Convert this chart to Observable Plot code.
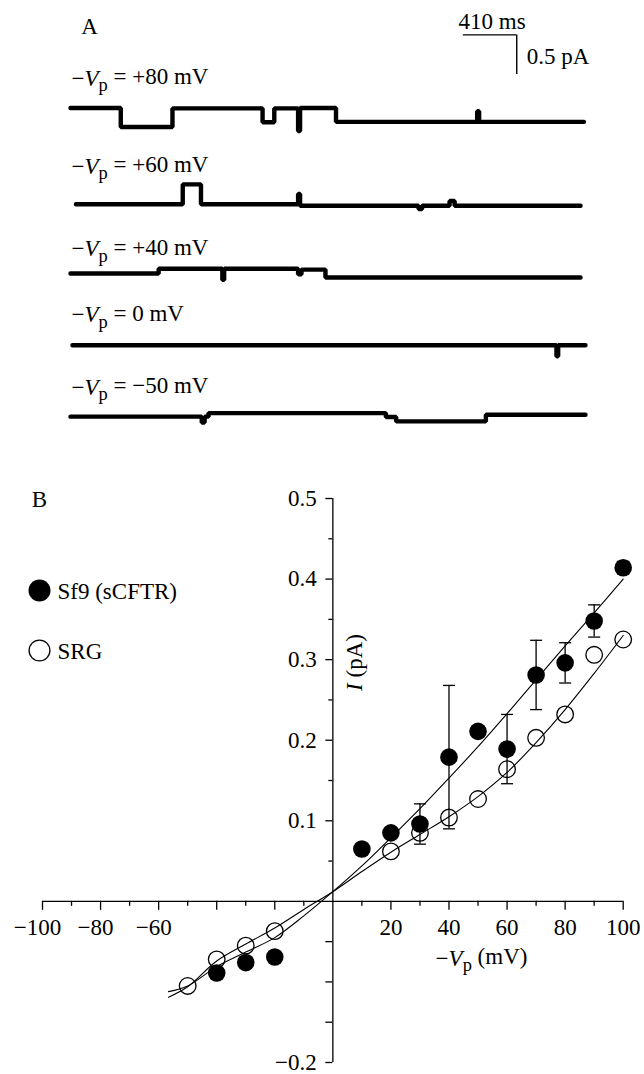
<!DOCTYPE html>
<html>
<head>
<meta charset="utf-8">
<script src="https://cdn.jsdelivr.net/npm/d3@7"></script>
<script src="https://cdn.jsdelivr.net/npm/@observablehq/plot@0.6"></script>
<style>
  html, body { margin: 0; padding: 0; background: #fff; }
  #chart svg { display: block; }
  #chart text { white-space: pre; }
</style>
</head>
<body>
<div id="chart"></div>
<script>
// ================= DATA =================
// Panel A: single-channel traces, [time (ms), current (pA)] breakpoints (step levels)
const traceLabels = ["\u2212V_p = +80 mV", "\u2212V_p = +60 mV", "\u2212V_p = +40 mV", "\u2212V_p = 0 mV", "\u2212V_p = \u221250 mV"];
const trace80  = [[0,0.24],[386,0],[783,0.235],[1475,0.06],[1565,0.235],[1748,-0.05],[1763,0.24],[2039,0.065],[3123,0.2],[3138,0.065],[3943,0.065]];
const trace60  = [[42,0],[862,0.25],[1002,0],[1748,0.13],[1763,-0.02],[2673,-0.06],[2700,-0.02],[2911,0.04],[2950,-0.02],[3917,-0.02]];
const trace40  = [[0,0.05],[677,0.11],[1166,-0.03],[1180,0.11],[1748,0.04],[1774,0.1],[1958,0],[3917,0]];
const trace0   = [[15,0],[3732,-0.14],[3745,0],[3955,0]];
const traceM50 = [[0,-0.045],[1008,-0.12],[1030,-0.045],[1060,0],[2422,-0.05],[2501,-0.105],[3190,-0.02],[3955,-0.02]];
const traces = [trace80, trace60, trace40, trace0, traceM50];
const recordLength = 3955;          // ms shown per trace
const scaleBarTime = 410;           // ms
const scaleBarCurrent = 0.5;        // pA

// Panel B: I-V relation
const vSf9   = [-40, -30, -20, 10, 20, 30, 40, 50, 60, 70, 80, 90, 100];
const iSf9   = [-0.089, -0.076, -0.069, 0.065, 0.085, 0.096, 0.179, 0.211, 0.189, 0.281, 0.296, 0.348, 0.414];
const errSf9 = [0, 0, 0, 0, 0, 0.025, 0.089, 0, 0.043, 0.043, 0.025, 0.02, 0.008];
const vSRG   = [-50, -40, -30, -20, 20, 30, 40, 50, 60, 70, 80, 90, 100];
const iSRG   = [-0.105, -0.072, -0.055, -0.037, 0.062, 0.085, 0.104, 0.127, 0.164, 0.203, 0.232, 0.306, 0.325];
const fitV   = [-56.6, -50, -40, -30, -20, -10, 0, 10, 20, 30, 40, 50, 60, 70, 80, 90, 100];
const fitSf9 = [-0.112, -0.105, -0.081, -0.063, -0.045, -0.018, 0.012, 0.044, 0.079, 0.115, 0.153, 0.192, 0.233, 0.275, 0.317, 0.358, 0.400];
const fitSRG = [-0.119, -0.106, -0.074, -0.053, -0.033, -0.010, 0.012, 0.037, 0.061, 0.083, 0.105, 0.130, 0.160, 0.197, 0.238, 0.283, 0.330];
const xMajor = [-100, -80, -60, -40, -20, 20, 40, 60, 80, 100];
const xMinor = [-90, -70, -50, -30, -10, 10, 30, 50, 70, 90];
const xLabelsNeg = [-100, -80, -60];
const xLabelsPos = [20, 40, 60, 80, 100];
const yMajor = [-0.2, -0.15, -0.1, -0.05, 0.1, 0.2, 0.3, 0.4, 0.5];
const yMinor = [0.05, 0.15, 0.25, 0.35, 0.45];
const yLabels = [0.1, 0.2, 0.3, 0.4, 0.5, -0.2];
const legendNames = ["Sf9 (sCFTR)", "SRG"];

// ================= LAYOUT =================
const W = 644;
const FONT = '"Liberation Serif", "Times New Roman", serif';
const FS = 23;
const style = {fontFamily: FONT, fontSize: FS + "px", background: "white", color: "black", overflow: "visible"};

// ---- Panel A ----
const HA = 440, A_ml = 70, A_mr = 59;
const pxPerPA = 79.2;
const traceBaselinePx = [126.5, 203.7, 277, 344.7, 412.6];
const traceLabelPx = [78, 165.8, 248.5, 314.4, 386.7];
const yTopA = HA / pxPerPA;
const offsets = traceBaselinePx.map(b => (HA - b) / pxPerPA);
const traceData = traces.flatMap((tr, k) => tr.map(([t, i]) => ({t, v: i + offsets[k], k})));
const barCornerT = 3427, barCornerV = (HA - 34.4) / pxPerPA;
const barH = [{t1: barCornerT - scaleBarTime, t2: barCornerT, v: barCornerV}];
const barV = [{t: barCornerT, v1: barCornerV - scaleBarCurrent, v2: barCornerV}];

const plotA = Plot.plot({
  width: W, height: HA,
  marginLeft: A_ml, marginRight: A_mr, marginTop: 0, marginBottom: 0,
  x: {domain: [0, recordLength], axis: null},
  y: {domain: [0, yTopA], axis: null},
  style,
  marks: [
    Plot.line(traceData, {x: "t", y: "v", z: "k", curve: "step-after", stroke: "black", strokeWidth: 4.4, strokeLinejoin: "miter"}),
    Plot.ruleY(barH, {x1: "t1", x2: "t2", y: "v", strokeWidth: 1.4}),
    Plot.ruleX(barV, {x: "t", y1: "v1", y2: "v2", strokeWidth: 1.4}),
    Plot.text([scaleBarTime + " ms"], {text: d => d, x: barCornerT - scaleBarTime / 2, y: barCornerV, dx: 2, dy: -13, textAnchor: "middle", lineAnchor: "middle"}),
    Plot.text([scaleBarCurrent + " pA"], {text: d => d, x: barCornerT, y: barCornerV - scaleBarCurrent / 2, dx: 10, dy: 2, textAnchor: "start", lineAnchor: "middle"}),
    Plot.text(["A"], {text: d => d, frameAnchor: "top-left", dx: 19, dy: 26, textAnchor: "middle", lineAnchor: "middle"}),
    Plot.text(traceLabels, {text: d => d, frameAnchor: "top-left", dx: 1, dy: 0, textAnchor: "start", lineAnchor: "middle"})
  ]
});

// ---- Panel B ----
const HB = 634;
const mB = {top: 58, bottom: 12, left: 42, right: 21.3};
const xDom = [-100, 100], yDom = [-0.2, 0.5];
const innerW = W - mB.left - mB.right, innerH = HB - mB.top - mB.bottom;
const yAxisDx = innerW * (0 - xDom[0]) / (xDom[1] - xDom[0]);
const xAxisDy = -innerH * (0 - yDom[0]) / (yDom[1] - yDom[0]);
const fmt = d => (d < 0 ? "\u2212" : "") + Math.abs(d);

const sf9Data = vSf9.map((v, j) => ({v, i: iSf9[j], e: errSf9[j]}));
const errData = sf9Data.filter(d => d.e > 0);
const capData = errData.flatMap(d => [{v: d.v, i: d.i - d.e}, {v: d.v, i: d.i + d.e}]);
const srgData = vSRG.map((v, j) => ({v, i: iSRG[j]}));
const fitData = fitV.flatMap((v, j) => [{v, i: fitSf9[j], s: "Sf9"}, {v, i: fitSRG[j], s: "SRG"}]);
const capSymbol = {draw(ctx, size) { const w = Math.sqrt(size / Math.PI); ctx.moveTo(-w, 0); ctx.lineTo(w, 0); }};

const plotB = Plot.plot({
  width: W, height: HB,
  marginTop: mB.top, marginBottom: mB.bottom, marginLeft: mB.left, marginRight: mB.right,
  x: {domain: xDom}, y: {domain: yDom},
  style,
  marks: [
    Plot.ruleX([0], {y1: yDom[0], y2: yDom[1], strokeWidth: 1.3}),
    Plot.ruleY([0], {x1: xDom[0], x2: xDom[1], strokeWidth: 1.3}),
    Plot.axisY({anchor: "left", ticks: yMajor, tickSize: 7, tickPadding: 9, dx: yAxisDx, strokeWidth: 1.3, label: null,
                tickFormat: d => yLabels.some(l => Math.abs(l - d) < 1e-9) ? fmt(d) : ""}),
    Plot.axisY({anchor: "left", ticks: yMinor, tickSize: 4, dx: yAxisDx, strokeWidth: 1.3, label: null, tickFormat: () => ""}),
    Plot.axisX({anchor: "bottom", ticks: xMajor, tickSize: 9, tickPadding: 8, dy: xAxisDy, strokeWidth: 1.3, label: null,
                tickFormat: d => xLabelsPos.includes(d) ? String(d) : ""}),
    Plot.axisX({anchor: "bottom", ticks: xLabelsNeg, tickSize: 0, tickPadding: 17, dy: xAxisDy, dx: -5, label: null, tickFormat: fmt}),
    Plot.axisX({anchor: "bottom", ticks: xMinor, tickSize: 5, dy: xAxisDy, strokeWidth: 1.3, label: null, tickFormat: () => ""}),
    Plot.line(fitData, {x: "v", y: "i", z: "s", curve: "catmull-rom", stroke: "black", strokeWidth: 1.1}),
    Plot.ruleX(errData, {x: "v", y1: d => d.i - d.e, y2: d => d.i + d.e, strokeWidth: 1.3}),
    Plot.dot(capData, {x: "v", y: "i", symbol: capSymbol, r: 6, fill: "none", stroke: "black", strokeWidth: 1.3}),
    Plot.dot(srgData, {x: "v", y: "i", r: 8.3, fill: "none", stroke: "black", strokeWidth: 1.3}),
    Plot.dot(sf9Data, {x: "v", y: "i", r: 8.8, fill: "black", stroke: "none"}),
    // legend
    Plot.dot([legendNames[0]], {frameAnchor: "top-left", dx: -3, dy: 92, r: 11, fill: "black", stroke: "none"}),
    Plot.dot([legendNames[1]], {frameAnchor: "top-left", dx: -3, dy: 152, r: 10.4, fill: "none", stroke: "black", strokeWidth: 1.3}),
    Plot.text([legendNames[0]], {text: d => d, frameAnchor: "top-left", dx: 15, dy: 93, textAnchor: "start", lineAnchor: "middle"}),
    Plot.text([legendNames[1]], {text: d => d, frameAnchor: "top-left", dx: 15, dy: 153, textAnchor: "start", lineAnchor: "middle"}),
    // labels
    Plot.text(["B"], {text: d => d, frameAnchor: "top-left", dx: -3, dy: 1, textAnchor: "middle", lineAnchor: "middle"}),
    Plot.text(["I (pA)"], {text: d => d, frameAnchor: "top-left", dx: 312, dy: 164, rotate: -90, textAnchor: "middle", lineAnchor: "middle"}),
    Plot.text(["\u2212V_p (mV)"], {text: d => d, frameAnchor: "top-left", dx: 439, dy: 460, textAnchor: "middle", lineAnchor: "middle"})
  ]
});

// rich text (italic V, subscript p; italic I)
const NS = "http://www.w3.org/2000/svg";
function addSpan(t, s, attrs = {}) {
  const sp = document.createElementNS(NS, "tspan");
  for (const [k, v] of Object.entries(attrs)) sp.setAttribute(k, v);
  sp.textContent = s;
  t.appendChild(sp);
}
function richify(svg) {
  svg.querySelectorAll("text").forEach(t => {
    if (t.querySelector("tspan")) return;
    const s = t.textContent;
    if (s.includes("V_p")) {
      const [pre, post] = s.split("V_p");
      t.textContent = "";
      addSpan(t, pre);
      addSpan(t, "V", {"font-style": "italic"});
      addSpan(t, "p", {"font-size": "80%", dy: "0.3em"});
      addSpan(t, post, {dy: "-0.3em"});
    } else if (s === "I (pA)") {
      t.textContent = "";
      addSpan(t, "I", {"font-style": "italic"});
      addSpan(t, " (pA)");
    }
  });
}
// place each trace label on its row (layout)
{
  const labelTexts = [...plotA.querySelectorAll("text")].filter(t => t.textContent.includes("V_p"));
  labelTexts.forEach((t, i) => {
    const tr = t.getAttribute("transform") || "";
    t.setAttribute("transform", tr + ` translate(0,${traceLabelPx[i]})`);
  });
}
richify(plotA);
richify(plotB);
document.getElementById("chart").append(plotA, plotB);
</script>
</body>
</html>
